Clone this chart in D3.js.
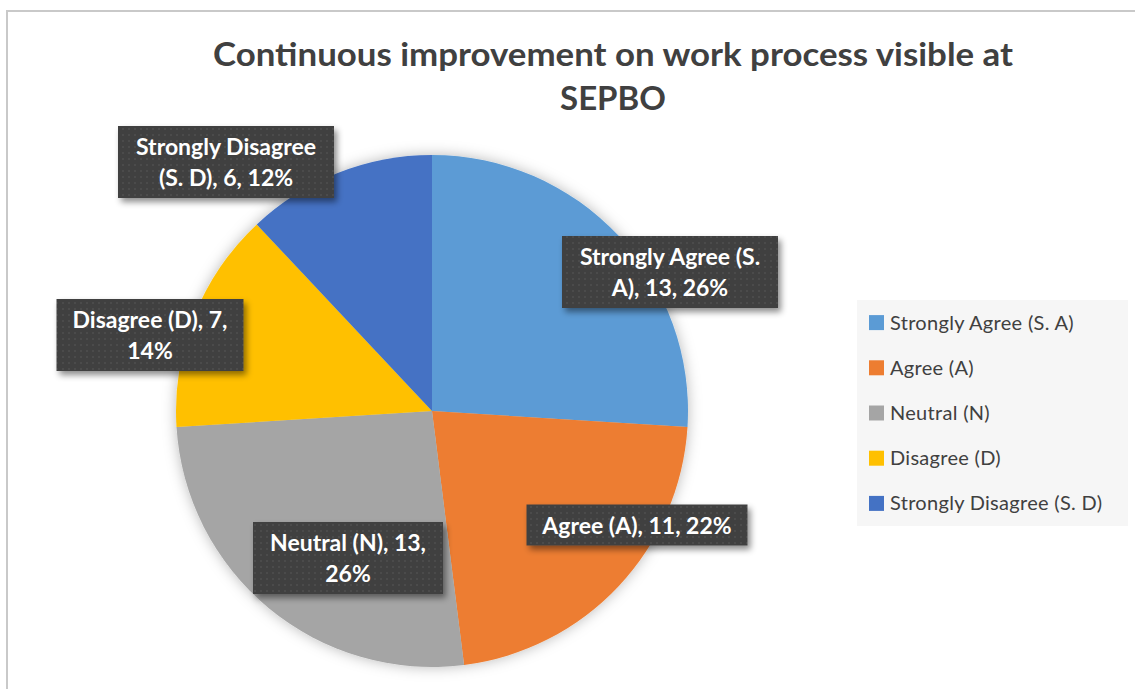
<!DOCTYPE html>
<html>
<head>
<meta charset="utf-8">
<script src="https://cdn.jsdelivr.net/npm/d3@7"></script>
<style>
html,body{margin:0;padding:0;background:#fff;}
svg{display:block;}
</style>
</head>
<body>
<div id="chart"></div>
<script>
(function(){

const categories = ["Strongly Agree (S. A)","Agree (A)","Neutral (N)","Disagree (D)","Strongly Disagree (S. D)"];
const counts = [13,11,13,7,6];
const percents = [26,22,26,14,12];
const colors = ["#5B9BD5","#ED7D31","#A5A5A5","#FFC000","#4472C4"];
const titleLines = ["Continuous improvement on work process visible at","SEPBO"];

// where Excel put each data label box (centre x, centre y, box width)
const labelLayout = [
  {cx:670,cy:272,w:216},
  {cx:637,cy:525,w:221},
  {cx:348,cy:558,w:190},
  {cx:150,cy:335,w:187},
  {cx:226,cy:162,w:216}
];

const width = 1135;
const height = 689;
const cx = 432, cy = 411, radius = 256;

const svg = d3.select("#chart")
.append("svg")
.attr("width",width)
.attr("height",height);

const defs = svg.append("defs");

const pieShadow = defs.append("filter")
.attr("id","pieShadow")
.attr("x","-20%").attr("y","-20%").attr("width","140%").attr("height","140%");
pieShadow.append("feDropShadow")
.attr("dx",0).attr("dy",0).attr("stdDeviation",7)
.attr("flood-color","#000").attr("flood-opacity",0.28);

const boxShadow = defs.append("filter")
.attr("id","boxShadow")
.attr("x","-20%").attr("y","-30%").attr("width","140%").attr("height","160%");
boxShadow.append("feDropShadow")
.attr("dx",3).attr("dy",4).attr("stdDeviation",3)
.attr("flood-color","#000").attr("flood-opacity",0.45);

const dots = defs.append("pattern")
.attr("id","dots")
.attr("width",6).attr("height",6)
.attr("patternUnits","userSpaceOnUse");
dots.append("rect").attr("width",6).attr("height",6).attr("fill","#3f3f3f");
dots.append("circle").attr("cx",3).attr("cy",3).attr("r",1).attr("fill","#4f4f4f");

// chart area border
svg.append("rect")
.attr("x",7).attr("y",11)
.attr("width",width+20).attr("height",height+20)
.attr("fill","#fff")
.attr("stroke","#c9c9c9")
.attr("stroke-width",2);

// title
svg.append("text")
.attr("x",613)
.attr("y",66)
.attr("text-anchor","middle")
.attr("font-family","Lato, sans-serif")
.attr("font-weight","bold")
.attr("font-size",33)
.attr("fill","#404040")
.selectAll("tspan")
.data(titleLines)
.enter()
.append("tspan")
.attr("x",613)
.attr("dy",(d,i)=>i===0?0:44)
.attr("textLength",(d,i)=>i===0?800:null)
.attr("lengthAdjust","spacingAndGlyphs")
.text(d=>d);

const data = categories.map((c,i)=>({cat:c,value:counts[i],pct:percents[i],color:colors[i],layout:labelLayout[i]}));

const pie = d3.pie().sort(null).value(d=>d.value);
const arc = d3.arc().innerRadius(0).outerRadius(radius);

const gPie = svg.append("g")
.attr("transform",`translate(${cx},${cy})`)
.attr("filter","url(#pieShadow)");

gPie.selectAll("path")
.data(pie(data))
.enter()
.append("path")
.attr("d",arc)
.attr("fill",d=>d.data.color);

// data labels
const fontSize = 23, lineH = 31, pad = 6;

const measure = svg.append("text")
.attr("font-family","Lato, sans-serif")
.attr("font-weight","bold")
.attr("font-size",fontSize)
.attr("visibility","hidden");

function wrap(str,maxW){
  const words = str.split(" ");
  const lines = [];
  let line = "";
  words.forEach(w=>{
    const test = line ? line+" "+w : w;
    measure.text(test);
    if(line && measure.node().getComputedTextLength()>maxW){
      lines.push(line);
      line = w;
    } else {
      line = test;
    }
  });
  if(line) lines.push(line);
  return lines;
}

const gLabels = svg.append("g");

data.forEach(d=>{
  const L = d.layout;
  const lines = wrap(`${d.cat}, ${d.value}, ${d.pct}%`, L.w-2*pad);
  const h = lines.length*lineH+10;
  const g = gLabels.append("g");
  g.append("rect")
  .attr("x",L.cx-L.w/2)
  .attr("y",L.cy-h/2)
  .attr("width",L.w)
  .attr("height",h)
  .attr("fill","url(#dots)")
  .attr("filter","url(#boxShadow)");
  g.append("text")
  .attr("text-anchor","middle")
  .attr("font-family","Lato, sans-serif")
  .attr("font-weight","bold")
  .attr("font-size",fontSize)
  .attr("fill","#fff")
  .selectAll("tspan")
  .data(lines)
  .enter()
  .append("tspan")
  .attr("x",L.cx)
  .attr("y",(t,i)=>L.cy-(lines.length-1)*lineH/2+i*lineH+8.5)
  .text(t=>t);
});

measure.remove();

// legend
const legendX = 857, legendY = 300, legendW = 271, legendH = 226;

svg.append("rect")
.attr("x",legendX).attr("y",legendY)
.attr("width",legendW).attr("height",legendH)
.attr("fill","#f6f6f6");

const ly = d3.scaleBand()
.domain(categories)
.range([legendY,legendY+legendH]);

const legend = svg.append("g")
.selectAll("g")
.data(data)
.enter()
.append("g")
.attr("transform",d=>`translate(${legendX+12},${ly(d.cat)+ly.bandwidth()/2})`);

legend.append("rect")
.attr("x",0).attr("y",-7.5)
.attr("width",15).attr("height",15)
.attr("fill",d=>d.color);

legend.append("text")
.attr("x",21)
.attr("y",7)
.attr("font-family","Lato, sans-serif")
.attr("font-size",20)
.attr("letter-spacing",0.3)
.attr("fill","#404040")
.text(d=>d.cat);

})();
</script>
</body>
</html>
